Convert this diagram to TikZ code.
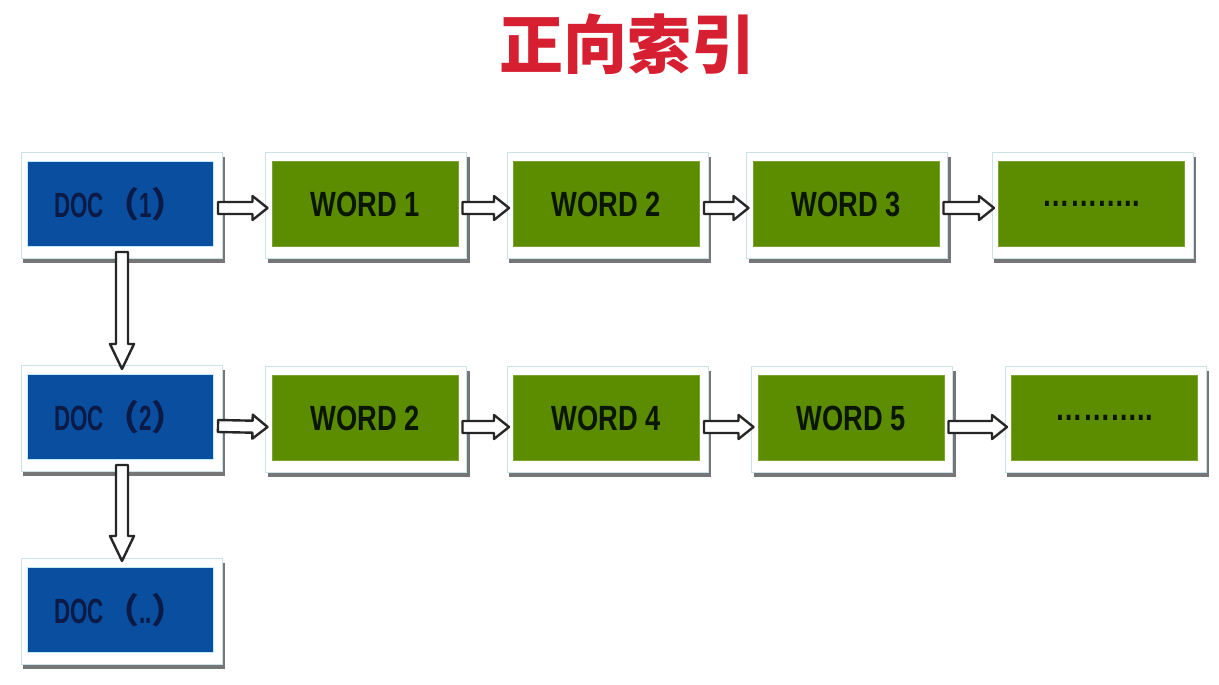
\documentclass[tikz,border=0pt]{standalone}
\usepackage{fontspec}
\usetikzlibrary{calc,backgrounds}
\newfontfamily\docfont{Liberation Sans}[FakeStretch=0.64]
\newfontfamily\wordfont{Liberation Sans}[FakeStretch=0.78]
\newfontfamily\cjkfont{Noto Sans CJK SC}
\definecolor{docblue}{RGB}{10,78,160}
\definecolor{wordgreen}{RGB}{92,140,0}
\definecolor{titlered}{RGB}{214,32,50}
\definecolor{docink}{RGB}{12,26,70}
\definecolor{wordink}{RGB}{10,22,0}
\definecolor{frameedge}{RGB}{205,226,232}
\definecolor{shadowgray}{RGB}{118,118,118}
\tikzset{
  boxbase/.style={rectangle, minimum width=186pt, minimum height=85pt, inner sep=0pt},
  docbox/.style={boxbase, fill=docblue, draw=cyan!25, line width=1pt, text=docink,
    font=\docfont\bfseries\fontsize{35}{40}\selectfont},
  wordbox/.style={boxbase, fill=wordgreen, draw=wordgreen!80!white, line width=1pt, text=wordink,
    font=\wordfont\bfseries\fontsize{35}{40}\selectfont},
  fatarrowstyle/.style={draw=black!85, fill=white, line width=2.4pt, line join=round},
  titlestyle/.style={text=titlered, font=\cjkfont\bfseries\fontsize{64}{70}\selectfont}
}
\newcommand\myfatarrow[3]{%
  \coordinate (fa-s) at (#1);
  \coordinate (fa-t) at (#2);
  \coordinate (fa-m) at ($(fa-t)!#3!(fa-s)$);
  \draw[fatarrowstyle] ($(fa-s)!6pt!90:(fa-t)$) -- ($(fa-m)!6pt!-90:(fa-s)$)
    -- ($(fa-m)!12pt!-90:(fa-s)$) -- (fa-t) -- ($(fa-m)!12pt!90:(fa-s)$)
    -- ($(fa-m)!6pt!90:(fa-s)$) -- ($(fa-s)!6pt!-90:(fa-t)$) -- cycle;}
\newcommand\myboxframe[1]{%
  \fill[shadowgray] ($(#1.north west)+(-4,-4)$) rectangle ($(#1.south east)+(11,16)$);
  \filldraw[fill=white, draw=frameedge, line width=1pt] ($(#1.north west)+(-6,-9)$) rectangle ($(#1.south east)+(8,11)$);}
\begin{document}
\begin{tikzpicture}[x=1pt, y=-1pt]
\useasboundingbox (0,0) rectangle (1219,685);
\node[titlestyle] (title) at (627,44) {正向索引};
% row 1
\node[docbox] (d1) at (120.5,204) {DOC{\cjkfont\bfseries （}1{\cjkfont\bfseries ）}};
\node[wordbox] (w11) at (365,204) {WORD 1};
\node[wordbox] (w12) at (606.5,204) {WORD 2};
\node[wordbox] (w13) at (846,204) {WORD 3};
\node[wordbox] (w14) at (1091.5,204) {………..};
% row 2
\node[docbox] (d2) at (120.5,417) {DOC{\cjkfont\bfseries （}2{\cjkfont\bfseries ）}};
\node[wordbox] (w21) at (365,418) {WORD 2};
\node[wordbox] (w22) at (606.5,418) {WORD 4};
\node[wordbox] (w23) at (851,418) {WORD 5};
\node[wordbox] (w24) at (1104.5,418) {………..};
% row 3
\node[docbox] (d3) at (120.5,610) {DOC{\cjkfont\bfseries （}..{\cjkfont\bfseries ）}};
\begin{scope}[on background layer]
  \fill[white] (0,0) rectangle (1219,685);
  \foreach \n in {d1,w11,w12,w13,w14,d2,w21,w22,w23,w24,d3} {\myboxframe{\n}}
\end{scope}
% horizontal arrows
\myfatarrow{$(d1.east)+(4,4)$}{$(w11.west)+(-4,4)$}{15pt}
\myfatarrow{$(w11.east)+(4,4)$}{$(w12.west)+(-4,4)$}{15pt}
\myfatarrow{$(w12.east)+(4,4)$}{$(w13.west)+(-4,4)$}{15pt}
\myfatarrow{$(w13.east)+(4,4)$}{$(w14.west)+(-4,4)$}{15pt}
\myfatarrow{$(d2.east)+(4,9)$}{$(w21.west)+(-4,9)$}{15pt}
\myfatarrow{$(w21.east)+(4,9)$}{$(w22.west)+(-4,9)$}{15pt}
\myfatarrow{$(w22.east)+(4,9)$}{$(w23.west)+(-4,9)$}{15pt}
\myfatarrow{$(w23.east)+(4,9)$}{$(w24.west)+(-4,9)$}{15pt}
% vertical arrows
\myfatarrow{$(d1.south)+(1.5,5)$}{$(d2.north)+(1.5,-5)$}{25pt}
\myfatarrow{$(d2.south)+(1.5,5)$}{$(d3.north)+(1.5,-6)$}{25pt}
\end{tikzpicture}
\end{document}
